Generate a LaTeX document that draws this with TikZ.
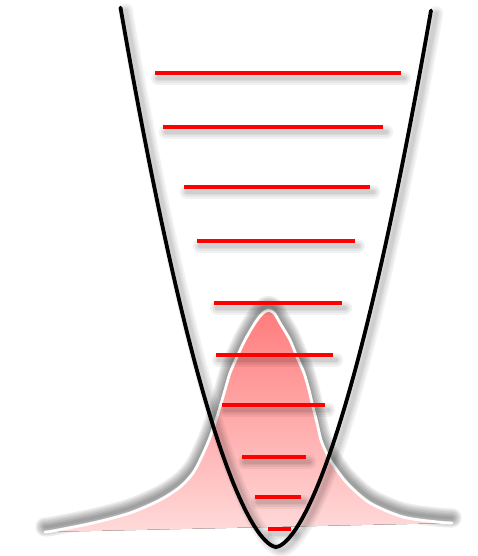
\documentclass[tikz,border=0pt]{standalone}
\definecolor{lvlred}{RGB}{255,0,0}
\definecolor{peaktop}{RGB}{255,124,124}
\definecolor{peakbot}{RGB}{255,218,218}
\tikzset{
  shadowstroke/.style={draw=black, line cap=round, line join=round},
  levelline/.style={draw=lvlred, line width=4pt},
  wellline/.style={draw=black, line width=3.8pt, line join=round, line cap=round},
  distline/.style={draw=white, line width=2.8pt, line cap=round},
}
\newcommand\blurshadow[4]{%
  \begin{scope}[transform canvas={shift={#1}}]
    \path[shadowstroke, draw opacity=#2, line width=#3*3.6] #4;
    \path[shadowstroke, draw opacity=#2, line width=#3*2.6] #4;
    \path[shadowstroke, draw opacity=#2, line width=#3*1.7] #4;
    \path[shadowstroke, draw opacity=#2, line width=#3] #4;
  \end{scope}}
\newcommand\softblur[4]{%
  \begin{scope}[transform canvas={shift={#1}}]
    \path[shadowstroke, draw opacity=#2, line width=#3*6] #4;
    \path[shadowstroke, draw opacity=#2, line width=#3*5] #4;
    \path[shadowstroke, draw opacity=#2, line width=#3*4] #4;
    \path[shadowstroke, draw opacity=#2, line width=#3*3] #4;
    \path[shadowstroke, draw opacity=#2, line width=#3*2] #4;
    \path[shadowstroke, draw opacity=#2, line width=#3] #4;
  \end{scope}}
\newcommand\distpts{(45,532) (53,531) (93,523) (130,513) (160,500) (180,487) (193,473) (201,458) (209,440) (215,423) (220,407) (225,390) (230,373) (237,357) (245,340) (255,323) (262,314) (268,310.5) (274,313) (280,323) (290,340) (297,357) (304,373) (309,390) (313,407) (317,423) (321,440) (326,452) (332,463) (347,483) (370,503) (403,517) (437,522) (452,523)}
\newcommand\wellpath{plot[domain=-155.5:155,samples=121,smooth] ({276+\x},{547-0.1305*pow(abs(\x),1.65)})}
\begin{document}
\begin{tikzpicture}[x=1pt,y=-1pt]
\useasboundingbox (0,0) rectangle (477,556);
% distribution shadow, fill and outline
\softblur{(0pt,5pt)}{0.075}{3.2pt}{plot[smooth] coordinates {\distpts}}
\fill[top color=peaktop, bottom color=peakbot] plot[smooth] coordinates {\distpts} -- cycle;
\path[distline] plot[smooth] coordinates {\distpts};
% potential well
\blurshadow{(5pt,-3pt)}{0.05}{4pt}{\wellpath}
\path[wellline] \wellpath;
% energy levels
\foreach \yy/\xa/\xb in {73/155/401, 127/163/383, 187/184/370, 241/197/355, 303/214/342, 355/216/333, 405/222/325, 457/242/306, 497/255/301, 529/268/291} {
  \blurshadow{(3pt,-5pt)}{0.05}{4pt}{(\xa,\yy) -- (\xb,\yy)}
  \draw[levelline] (\xa,\yy) -- (\xb,\yy);
}
\end{tikzpicture}
\end{document}
